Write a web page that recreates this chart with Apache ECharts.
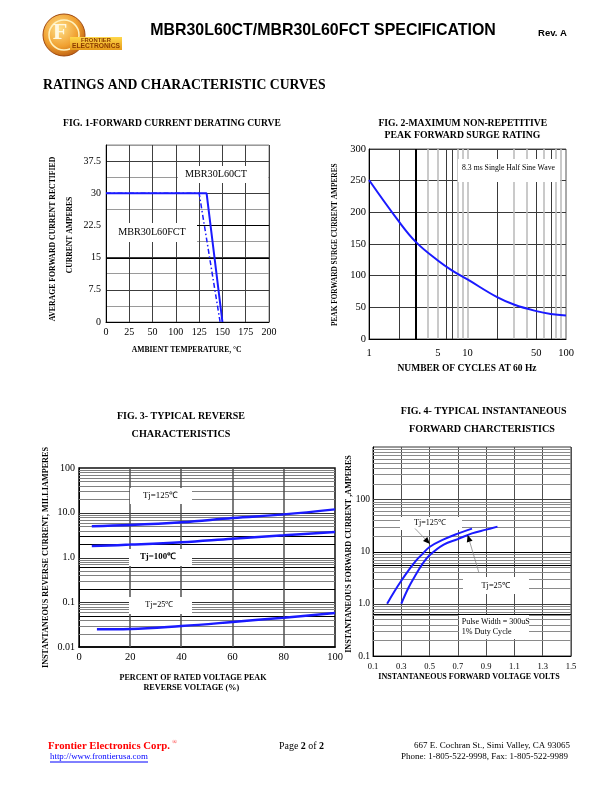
<!DOCTYPE html>
<html><head><meta charset="utf-8">
<script src="https://cdn.jsdelivr.net/npm/echarts@6/dist/echarts.min.js"></script>
<style>html,body{margin:0;padding:0;background:#fff}#c{width:612px;height:792px}</style>
</head><body><div id="c"></div>
<script>
// ---------------- DATA ----------------
// Fig 1 : forward current derating
const fig1XTicks = [0, 25, 50, 100, 125, 150, 175, 200];
const fig1YTicks = [0, 7.5, 15, 22.5, 30, 37.5];
const fig1CTTemp = [0, 133, 150];
const fig1CTAmps = [30, 30, 0];
const fig1FCTTemp = [0, 125, 147.5];
const fig1FCTAmps = [30, 30, 0];

// Fig 2 : peak forward surge
const fig2XTicks = [1, 5, 10, 50, 100];
const fig2Cycles = [1, 2, 3, 5, 7, 10, 20, 30, 50, 70, 100];
const fig2Amps = [251, 186, 153, 124, 108, 94, 66, 54, 44, 39.5, 37];

// Fig 3 : reverse characteristics
const fig3XTicks = [0, 20, 40, 60, 80, 100];
const fig3YTicks = [0.01, 0.1, 1, 10, 100];
const fig3YTickLabels = ['0.01', '0.1', '1.0', '10.0', '100'];
const fig3Pct125 = [5, 20, 40, 60, 80, 100];
const fig3Cur125 = [5.0, 5.3, 6.1, 7.6, 9.2, 11.9];
const fig3Pct100 = [5, 20, 40, 60, 80, 100];
const fig3Cur100 = [1.8, 1.94, 2.2, 2.64, 3.13, 3.72];
const fig3Pct25 = [7, 20, 40, 60, 80, 100];
const fig3Cur25 = [0.0248, 0.0252, 0.0294, 0.0362, 0.0453, 0.0575];

// Fig 4 : forward characteristics
const fig4XTicks = [0.1, 0.3, 0.5, 0.7, 0.9, 1.1, 1.3, 1.5];
const fig4YTicks = [0.1, 1, 10, 100];
const fig4YTickLabels = ['0.1', '1.0', '10', '100'];
const fig4Volt125 = [0.2, 0.25, 0.3, 0.35, 0.4, 0.45, 0.5, 0.6, 0.7, 0.8];
const fig4Cur125 = [1.0, 1.7, 2.75, 4.3, 6.5, 9.0, 12.2, 17, 22, 27.4];
const fig4Volt25 = [0.3, 0.35, 0.4, 0.45, 0.5, 0.6, 0.7, 0.8, 0.9, 0.98];
const fig4Cur25 = [1.0, 2.0, 3.5, 5.8, 8.5, 13.6, 17.3, 22.2, 26.2, 29.9];

// ---------------- HELPERS ----------------
const SERIF = '"Liberation Serif", "Times New Roman", serif';
const SANS = '"Liberation Sans", Arial, sans-serif';
const BLUE = '#1a1aff';
const mctx = document.createElement('canvas').getContext('2d');
function fitSize(text, w, weight, family) {
  mctx.font = weight + ' 100px ' + family;
  return 100 * w / mctx.measureText(text).width;
}
function txt(text, x, y, o) {
  o = o || {};
  const weight = o.bold ? 'bold' : 'normal';
  const family = o.family || SERIF;
  const size = o.w ? fitSize(text, o.w, weight, family) : (o.size || 10);
  return {
    type: 'text', x: x, y: y, rotation: o.rot || 0, z: o.z || 30, silent: true,
    style: { text: text, x: 0, y: 0, fontSize: size, fontWeight: weight, fontFamily: family,
      fill: o.color || '#000', align: o.align || 'center', verticalAlign: 'middle' }
  };
}
function box(x, y, w, h) {
  return { type: 'rect', z: 25, silent: true, shape: { x: x, y: y, width: w, height: h }, style: { fill: '#fff' } };
}
function arrow(x1, y1, x2, y2) {
  const a = Math.atan2(y2 - y1, x2 - x1), L = 7, W = 3;
  const bx = x2 - L * Math.cos(a), by = y2 - L * Math.sin(a);
  return [
    { type: 'line', z: 26, silent: true, shape: { x1: x1, y1: y1, x2: bx, y2: by }, style: { stroke: '#888', lineWidth: 0.8 } },
    { type: 'polygon', z: 26, silent: true, shape: { points: [[x2, y2],
      [bx + W * Math.sin(a), by - W * Math.cos(a)], [bx - W * Math.sin(a), by + W * Math.cos(a)]] }, style: { fill: '#000' } }
  ];
}
// piecewise mapping of temperature onto fig.1's (non-uniform) tick grid
function fig1Pos(t) {
  for (let i = 0; i < fig1XTicks.length - 1; i++) {
    if (t <= fig1XTicks[i + 1]) return i + (t - fig1XTicks[i]) / (fig1XTicks[i + 1] - fig1XTicks[i]);
  }
  return fig1XTicks.length - 1;
}
function zip(a, b) { return a.map((v, i) => [v, b[i]]); }
function gridLines(gi, dir, values, ref, color, width) {
  return {
    type: 'custom', xAxisIndex: gi, yAxisIndex: gi, silent: true, z: 1, clip: true, animation: false,
    data: values.map(v => dir === 'v' ? [v, ref] : [ref, v]),
    renderItem: function (params, api) {
      const cs = params.coordSys;
      const p = api.coord([api.value(0), api.value(1)]);
      const off = (Math.round(width) % 2) ? 0.5 : 0;
      const c = Math.round(dir === 'v' ? p[0] : p[1]) + off;
      const shape = dir === 'v' ? { x1: c, y1: cs.y, x2: c, y2: cs.y + cs.height }
                                : { x1: cs.x, y1: c, x2: cs.x + cs.width, y2: c };
      return { type: 'line', shape: shape, style: { stroke: color, lineWidth: width } };
    }
  };
}
function logMinor(decades) {
  const out = [];
  decades.forEach(d => { for (let k = 2; k <= 9; k++) out.push(d * k); });
  return out;
}
function lab(size, margin, extra) {
  return Object.assign({ fontFamily: SERIF, fontSize: size, color: '#000', margin: margin }, extra || {});
}
const blackLine = { show: true, lineStyle: { color: '#000', width: 1 } };
function approxIdx(arr, v) { return arr.findIndex(t => Math.abs(t - v) / t < 1e-6); }

// ---------------- CHART ----------------
const chart = echarts.init(document.getElementById('c'), null, { renderer: 'canvas' });

const graphics = [];
// logo
graphics.push({ type: 'circle', z: 20, silent: true, shape: { cx: 64, cy: 35, r: 21 },
  style: { fill: { type: 'radial', x: 0.4, y: 0.35, r: 0.7, colorStops: [{ offset: 0, color: '#ffe08a' }, { offset: 0.6, color: '#f0a030' }, { offset: 1, color: '#b85a10' }] }, stroke: '#a04a10', lineWidth: 1 } });
graphics.push({ type: 'circle', z: 21, silent: true, shape: { cx: 64, cy: 35, r: 15 },
  style: { fill: 'none', stroke: '#fff3c0', lineWidth: 1.5 } });
graphics.push(txt('F', 60, 33, { size: 24, bold: true, color: '#fff8e0', z: 22 }));
graphics.push({ type: 'rect', z: 22, silent: true, shape: { x: 70, y: 37, width: 52, height: 13 },
  style: { fill: { type: 'linear', x: 0, y: 0, x2: 0, y2: 1, colorStops: [{ offset: 0, color: '#ffd84a' }, { offset: 1, color: '#e59a1a' }] } } });
graphics.push(txt('FRONTIER', 96, 40.5, { w: 30, bold: true, family: SANS, color: '#8a3a00', z: 23 }));
graphics.push(txt('ELECTRONICS', 96, 46.5, { w: 48, bold: true, family: SANS, color: '#8a3a00', z: 23 }));

// header
graphics.push(txt('MBR30L60CT/MBR30L60FCT SPECIFICATION', 323, 31, { w: 346, bold: true, family: SANS }));
graphics.push(txt('Rev. A', 552.5, 33, { w: 29, bold: true, family: SANS }));
graphics.push(txt('RATINGS AND CHARACTERISTIC CURVES', 43, 85, { w: 283, bold: true, align: 'left' }));

// figure titles
graphics.push(txt('FIG. 1-FORWARD CURRENT DERATING CURVE', 172, 124, { w: 218, bold: true }));
graphics.push(txt('FIG. 2-MAXIMUM NON-REPETITIVE', 462.8, 124, { w: 169, bold: true }));
graphics.push(txt('PEAK FORWARD SURGE RATING', 462.5, 135, { w: 156, bold: true }));
graphics.push(txt('FIG. 3- TYPICAL REVERSE', 181, 416, { w: 128, bold: true }));
graphics.push(txt('CHARACTERISTICS', 181, 434, { w: 99, bold: true }));
graphics.push(txt('FIG. 4- TYPICAL INSTANTANEOUS', 483.7, 411.7, { w: 166, bold: true }));
graphics.push(txt('FORWARD CHARCTERISTICS', 482, 429, { w: 146, bold: true }));

// axis names
const R = Math.PI / 2;
graphics.push(txt('AVERAGE FORWARD CURRENT RECTIFIED', 53, 239, { w: 165, bold: true, rot: R }));
graphics.push(txt('CURRENT AMPERES', 70.5, 235, { w: 76.6, bold: true, rot: R }));
graphics.push(txt('AMBIENT TEMPERATURE, \u00B0C', 186.7, 350, { w: 110, bold: true }));
graphics.push(txt('PEAK FORWARD SURGE CURRENT AMPERES', 335, 244.7, { w: 163, bold: true, rot: R }));
graphics.push(txt('NUMBER OF CYCLES AT 60 Hz', 467, 369, { w: 139, bold: true }));
graphics.push(txt('INSTANTANEOUS REVERSE CURRENT, MILLIAMPERES', 46, 557.5, { w: 221.6, bold: true, rot: R }));
graphics.push(txt('PERCENT OF RATED VOLTAGE PEAK', 193, 678, { w: 147, bold: true }));
graphics.push(txt('REVERSE VOLTAGE (%)', 191.3, 688, { w: 96, bold: true }));
graphics.push(txt('INSTANTANEOUS FORWARD CURRENT ,AMPERES', 349, 554, { w: 198, bold: true, rot: R }));
graphics.push(txt('INSTANTANEOUS FORWARD VOLTAGE VOLTS', 469, 676.7, { w: 181.7, bold: true }));

// in-plot annotations
graphics.push(box(178, 166, 90, 17), txt('MBR30L60CT', 216, 174, { w: 62 }));
graphics.push(box(107, 223, 90, 19), txt('MBR30L60FCT', 152, 232, { w: 67.7 }));
graphics.push(box(458, 159, 102, 23), txt('8.3 ms Single Half Sine Wave', 508.5, 167.5, { w: 93 }));
graphics.push(box(130, 488, 62, 16), txt('Tj=125\u2103', 160.5, 495.5, { w: 35 }));
graphics.push(box(129, 549, 63, 17), txt('Tj=100\u2103', 158, 557, { w: 36, bold: true }));
graphics.push(box(129, 597, 63, 17), txt('Tj=25\u2103', 159.3, 605.3, { w: 28 }));
graphics.push(box(400, 517, 62, 13), txt('Tj=125\u2103', 430, 523, { w: 32 }));
graphics.push(box(463, 577, 66, 17), txt('Tj=25\u2103', 495.7, 585.7, { w: 28.7 }));
graphics.push(box(459, 615, 70, 24));
graphics.push(txt('Pulse Width = 300uS', 461.7, 621.7, { w: 68, align: 'left' }));
graphics.push(txt('1% Duty Cycle', 461.7, 631.7, { w: 50, align: 'left' }));
graphics.push(...arrow(415, 528.5, 430, 544));
graphics.push(...arrow(479, 573, 467.7, 535));

// footer
graphics.push(txt('Frontier Electronics Corp.', 48, 746, { w: 122, bold: true, color: '#ff0000', align: 'left' }));
graphics.push(txt('\u00AE', 174.5, 742, { size: 6, color: '#ff0000' }));
graphics.push(txt('http://www.frontierusa.com', 50, 757, { w: 98, color: '#0000ff', align: 'left' }));
graphics.push({ type: 'line', z: 30, silent: true, shape: { x1: 50, y1: 762, x2: 148, y2: 762 }, style: { stroke: '#0000ff', lineWidth: 1 } });
(function () {
  const fs = fitSize('Page 2 of 2', 45, 'normal', SERIF);
  graphics.push({ type: 'text', x: 301.5, y: 746, z: 30, silent: true,
    style: { text: 'Page {b|2} of {b|2}', x: 0, y: 0, fontSize: fs, fontFamily: SERIF, fill: '#000', align: 'center', verticalAlign: 'middle',
      rich: { b: { fontSize: fs, fontFamily: SERIF, fontWeight: 'bold', fill: '#000' } } } });
})();
graphics.push(txt('667 E. Cochran St., Simi Valley, CA 93065', 570, 746, { w: 156, align: 'right' }));
graphics.push(txt('Phone: 1-805-522-9998, Fax: 1-805-522-9989', 568, 757, { w: 167, align: 'right' }));

const option = {
  animation: false,
  backgroundColor: '#fff',
  grid: [
    { left: 106, top: 145, width: 163, height: 177, show: true, borderColor: '#8a8a8a', borderWidth: 1 },
    { left: 369, top: 149, width: 197, height: 190, show: true, borderColor: '#555', borderWidth: 1 },
    { left: 79, top: 468, width: 256, height: 179, show: true, borderColor: '#111', borderWidth: 1.5 },
    { left: 373, top: 447, width: 198, height: 209, show: true, borderColor: '#333', borderWidth: 1 }
  ],
  xAxis: [
    { gridIndex: 0, type: 'value', min: 0, max: fig1XTicks.length - 1, interval: 1,
      axisLine: blackLine, axisTick: { show: false },
      axisLabel: lab(10, 5, { formatter: v => (fig1XTicks[v] !== undefined ? String(fig1XTicks[v]) : '') }),
      splitLine: { show: true, lineStyle: { color: '#404040', width: 1 } } },
    { gridIndex: 1, type: 'log', logBase: 10, min: 1, max: 100,
      axisLine: blackLine, axisTick: { show: false },
      axisLabel: lab(10.5, 9, { customValues: fig2XTicks, formatter: v => String(Math.round(v)) }),
      splitLine: { show: false } },
    { gridIndex: 2, type: 'value', min: 0, max: 100, interval: 20,
      axisLine: { show: true, lineStyle: { color: '#000', width: 1.5 } }, axisTick: { show: false },
      axisLabel: lab(10.5, 5, { customValues: fig3XTicks }), splitLine: { show: false } },
    { gridIndex: 3, type: 'value', min: 0.1, max: 1.5, interval: 0.2,
      axisLine: blackLine, axisTick: { show: false },
      axisLabel: lab(8.5, 6, { customValues: fig4XTicks, formatter: v => v.toFixed(1) }),
      splitLine: { show: true, lineStyle: { color: '#505050', width: 1 } } }
  ],
  yAxis: [
    { gridIndex: 0, type: 'value', min: 0, max: 41.25, interval: 3.75,
      axisLine: blackLine, axisTick: { show: false },
      axisLabel: lab(10, 5, { formatter: v => (fig1YTicks.indexOf(v) >= 0 ? String(v) : '') }),
      splitLine: { show: true, lineStyle: { color: ['#3c3c3c', '#9a9a9a'], width: 1 } } },
    { gridIndex: 1, type: 'value', min: 0, max: 300, interval: 50,
      axisLine: blackLine, axisTick: { show: false },
      axisLabel: lab(10.5, 3), splitLine: { show: true, lineStyle: { color: '#3a3a3a', width: 1 } } },
    { gridIndex: 2, type: 'log', logBase: 10, min: 0.01, max: 100,
      axisLine: blackLine, axisTick: { show: false },
      axisLabel: lab(10, 4, { customValues: fig3YTicks, formatter: v => { const i = approxIdx(fig3YTicks, v); return i >= 0 ? fig3YTickLabels[i] : ''; } }),
      splitLine: { show: false } },
    { gridIndex: 3, type: 'log', logBase: 10, min: 0.1, max: 1000,
      axisLine: blackLine, axisTick: { show: false },
      axisLabel: lab(9.5, 3, { customValues: fig4YTicks, formatter: v => { const i = approxIdx(fig4YTicks, v); return i >= 0 ? fig4YTickLabels[i] : ''; } }),
      splitLine: { show: false } }
  ],
  graphic: { elements: graphics },
  series: [
    // fig 1 emphasis gridlines
    gridLines(0, 'h', [15, 22.5], 0, '#000', 1),
    // fig 2 gridlines
    gridLines(1, 'v', [3, 4, 5, 8, 9, 10, 30, 40, 60, 80, 90], 150, '#bdbdbd', 1.6),
    gridLines(1, 'v', [2, 6, 7, 20, 50, 70], 150, '#3a3a3a', 1),
    gridLines(1, 'v', [3], 150, '#000', 2),
    // fig 3 gridlines
    gridLines(2, 'h', logMinor([0.01, 0.1, 1, 10]), 50, '#808080', 1),
    gridLines(2, 'h', [0.1, 1, 10], 50, '#333', 1),
    gridLines(2, 'h', [0.05, 0.2, 0.6, 2, 3], 50, '#000', 1),
    gridLines(2, 'v', [20, 40, 60, 80], 1, '#505050', 1.5),
    // fig 4 gridlines
    gridLines(3, 'h', logMinor([0.1, 1, 10, 100]), 0.8, '#8a8a8a', 1),
    gridLines(3, 'h', [1, 100], 0.8, '#404040', 1),
    gridLines(3, 'h', [0.65, 5.5, 10], 0.8, '#000', 1),
    // data curves
    { name: 'MBR30L60CT', type: 'line', xAxisIndex: 0, yAxisIndex: 0, z: 5, symbol: 'none',
      data: fig1CTTemp.map((t, i) => [fig1Pos(t), fig1CTAmps[i]]),
      lineStyle: { color: BLUE, width: 2 } },
    { name: 'MBR30L60FCT', type: 'line', xAxisIndex: 0, yAxisIndex: 0, z: 5, symbol: 'none',
      data: fig1FCTTemp.map((t, i) => [fig1Pos(t), fig1FCTAmps[i]]),
      lineStyle: { color: BLUE, width: 1.5, type: [5, 2.5, 1.5, 2.5] } },
    { name: 'Surge', type: 'line', xAxisIndex: 1, yAxisIndex: 1, z: 5, symbol: 'none', smooth: 0.4,
      data: zip(fig2Cycles, fig2Amps), lineStyle: { color: BLUE, width: 2 } },
    { name: 'Tj=125', type: 'line', xAxisIndex: 2, yAxisIndex: 2, z: 5, symbol: 'none', smooth: 0.4,
      data: zip(fig3Pct125, fig3Cur125), lineStyle: { color: BLUE, width: 2.5 } },
    { name: 'Tj=100', type: 'line', xAxisIndex: 2, yAxisIndex: 2, z: 5, symbol: 'none', smooth: 0.4,
      data: zip(fig3Pct100, fig3Cur100), lineStyle: { color: BLUE, width: 2.5 } },
    { name: 'Tj=25', type: 'line', xAxisIndex: 2, yAxisIndex: 2, z: 5, symbol: 'none', smooth: 0.4,
      data: zip(fig3Pct25, fig3Cur25), lineStyle: { color: BLUE, width: 2.5 } },
    { name: 'Fwd Tj=125', type: 'line', xAxisIndex: 3, yAxisIndex: 3, z: 5, symbol: 'none', smooth: 0.4,
      data: zip(fig4Volt125, fig4Cur125), lineStyle: { color: BLUE, width: 2 } },
    { name: 'Fwd Tj=25', type: 'line', xAxisIndex: 3, yAxisIndex: 3, z: 5, symbol: 'none', smooth: 0.4,
      data: zip(fig4Volt25, fig4Cur25), lineStyle: { color: BLUE, width: 2 } }
  ]
};
chart.setOption(option);
</script>
</body></html>
